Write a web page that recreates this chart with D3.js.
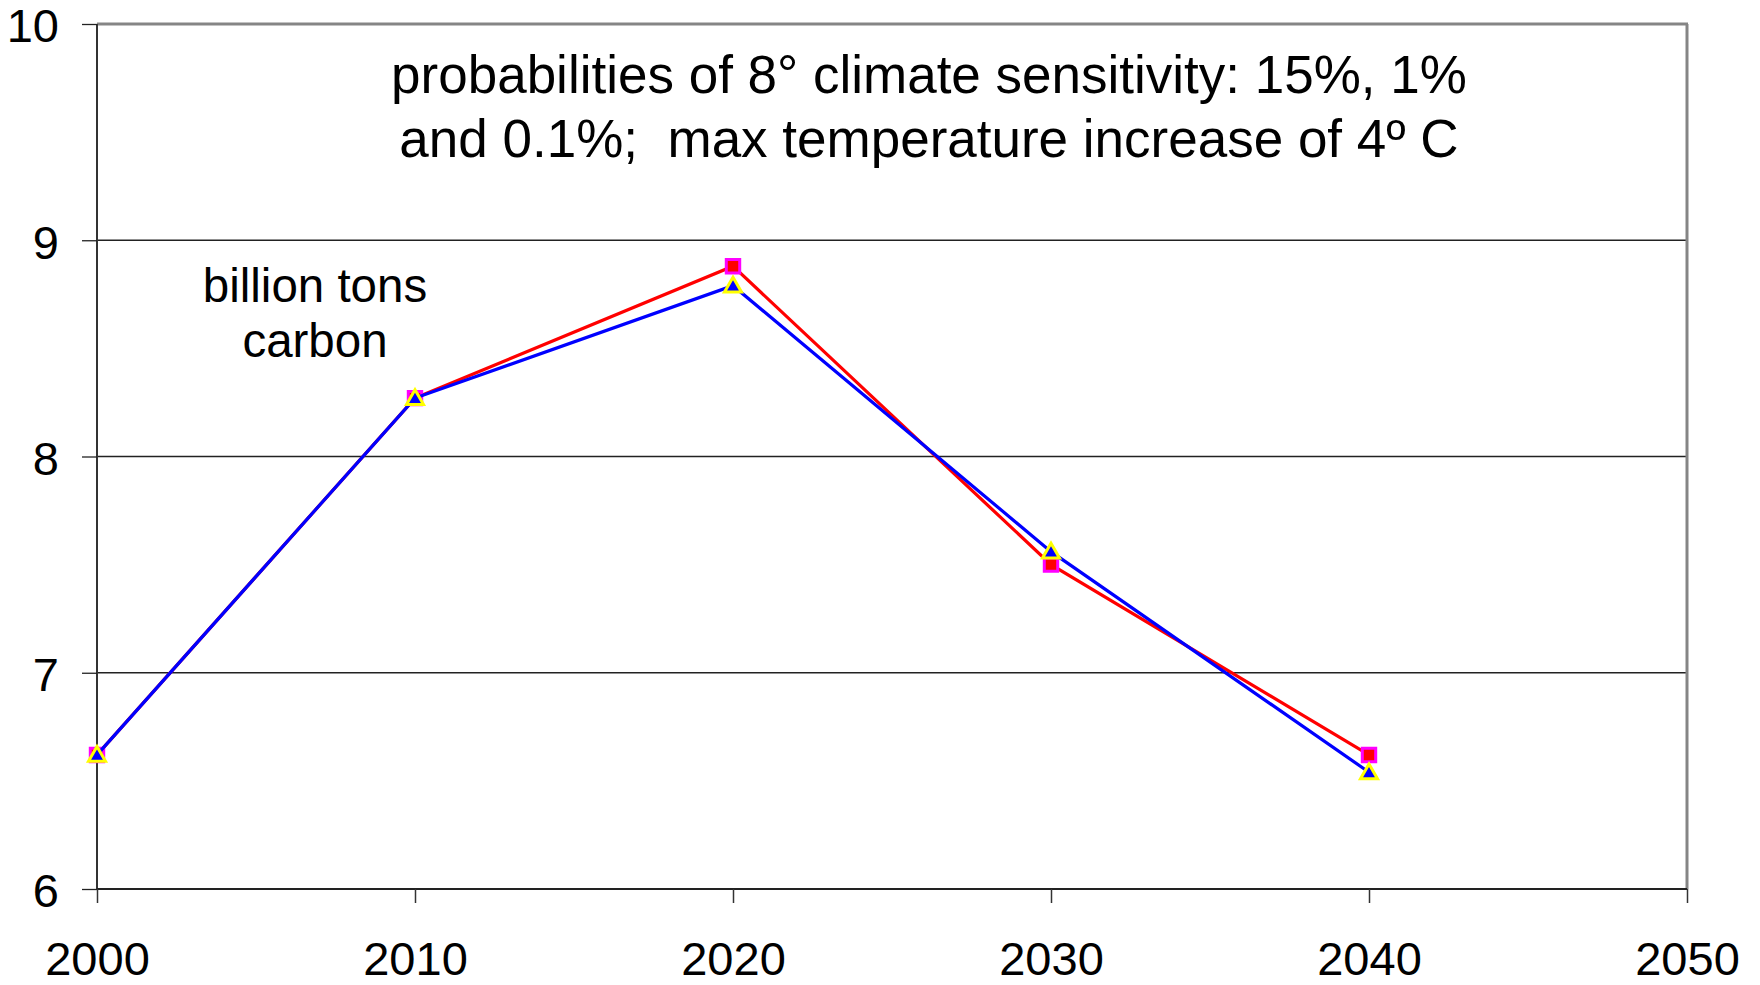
<!DOCTYPE html>
<html>
<head>
<meta charset="utf-8">
<script src="https://cdn.jsdelivr.net/npm/d3@7"></script>
<style>
  html, body { margin: 0; padding: 0; background: #fff; }
  svg { display: block; font-family: "Liberation Sans", Arial, sans-serif; }
  .keep-space { white-space: pre; }
</style>
</head>
<body>
<svg id="chart" width="1760" height="985"></svg>
<script>
// Emissions path (billion tons carbon) by decade
const years = [2000, 2010, 2020, 2030, 2040];
const emissionsRed = [6.62, 8.27, 8.88, 7.50, 6.62];
const emissionsBlue = [6.62, 8.27, 8.79, 7.56, 6.54];

const xTickValues = [2000, 2010, 2020, 2030, 2040, 2050];
const yTickValues = [6, 7, 8, 9, 10];

const titleLines = [
  "probabilities of 8° climate sensitivity: 15%, 1%",
  "and 0.1%;  max temperature increase of 4º C"
];
const unitLines = ["billion tons", "carbon"];

const svg = d3.select("#chart");
const plot = { left: 97, right: 1687, top: 24, bottom: 889 };

const x = d3.scaleLinear().domain([2000, 2050]).range([plot.left, plot.right]);
const y = d3.scaleLinear().domain([6, 10]).range([plot.bottom, plot.top]);

// Horizontal gridlines
svg.append("g")
  .selectAll("line")
  .data(yTickValues.filter(v => v > 6 && v < 10))
  .join("line")
  .attr("x1", plot.left).attr("x2", plot.right)
  .attr("y1", d => y(d)).attr("y2", d => y(d))
  .attr("stroke", "#222").attr("stroke-width", 1.3);

// Top and right frame
svg.append("line")
  .attr("x1", plot.left).attr("x2", plot.right + 1)
  .attr("y1", plot.top).attr("y2", plot.top)
  .attr("stroke", "#858585").attr("stroke-width", 3);
svg.append("line")
  .attr("x1", plot.right).attr("x2", plot.right)
  .attr("y1", plot.top).attr("y2", plot.bottom)
  .attr("stroke", "#858585").attr("stroke-width", 3);

// Y axis
const yAxis = svg.append("g")
  .attr("transform", `translate(${plot.left},0)`)
  .call(d3.axisLeft(y).tickValues(yTickValues).tickSize(15).tickPadding(23).tickFormat(d3.format("d")));
yAxis.select(".domain").attr("stroke", "#333").attr("stroke-width", 2).attr("d", `M0,${plot.top}V${plot.bottom}`);
yAxis.selectAll(".tick line").attr("stroke", "#222").attr("stroke-width", 1.3);
yAxis.selectAll(".tick text")
  .attr("font-size", 47).attr("fill", "#000").attr("dy", "0.38em")
  .attr("font-family", "'Liberation Sans', Arial, sans-serif");

// X axis
const xAxis = svg.append("g")
  .attr("transform", `translate(0,${plot.bottom})`)
  .call(d3.axisBottom(x).tickValues(xTickValues).tickSize(14).tickPadding(0).tickFormat(d3.format("d")));
xAxis.select(".domain").attr("stroke", "#222").attr("stroke-width", 2).attr("d", `M${plot.left},0H${plot.right}`);
xAxis.selectAll(".tick line").attr("stroke", "#333").attr("stroke-width", 1.5);
xAxis.selectAll(".tick text")
  .attr("font-size", 47).attr("fill", "#000").attr("y", 86).attr("dy", 0)
  .attr("font-family", "'Liberation Sans', Arial, sans-serif");

// Series
const line = d3.line().x((d, i) => x(years[i])).y(d => y(d));

function drawSeries(values, color, markerType, markerFill, markerStroke) {
  svg.append("path")
    .datum(values)
    .attr("d", line)
    .attr("fill", "none")
    .attr("stroke", color)
    .attr("stroke-width", 3.2)
    .attr("stroke-linejoin", "miter");
  const sym = d3.symbol().type(markerType).size(markerType === d3.symbolSquare ? 180 : 125);
  svg.append("g")
    .selectAll("path")
    .data(values)
    .join("path")
    .attr("transform", (d, i) => `translate(${x(years[i])},${y(d) + (markerType === d3.symbolTriangle ? 1.5 : 0)})`)
    .attr("d", sym)
    .attr("fill", markerFill)
    .attr("stroke", markerStroke)
    .attr("stroke-width", 3);
}

drawSeries(emissionsRed, "#ff0000", d3.symbolSquare, "#ff0000", "#ff00ff");
drawSeries(emissionsBlue, "#0000ff", d3.symbolTriangle, "#0000ff", "#ffff00");

// Title
svg.append("text")
  .attr("class", "keep-space")
  .attr("xml:space", "preserve")
  .attr("text-anchor", "middle")
  .attr("font-size", 53)
  .attr("fill", "#000")
  .selectAll("tspan")
  .data(titleLines)
  .join("tspan")
  .attr("x", 929)
  .attr("y", (d, i) => 93 + i * 64)
  .text(d => d);

// Unit label
svg.append("text")
  .attr("text-anchor", "middle")
  .attr("font-size", 47.5)
  .attr("fill", "#000")
  .selectAll("tspan")
  .data(unitLines)
  .join("tspan")
  .attr("x", 315)
  .attr("y", (d, i) => 302 + i * 55)
  .text(d => d);
</script>
</body>
</html>
